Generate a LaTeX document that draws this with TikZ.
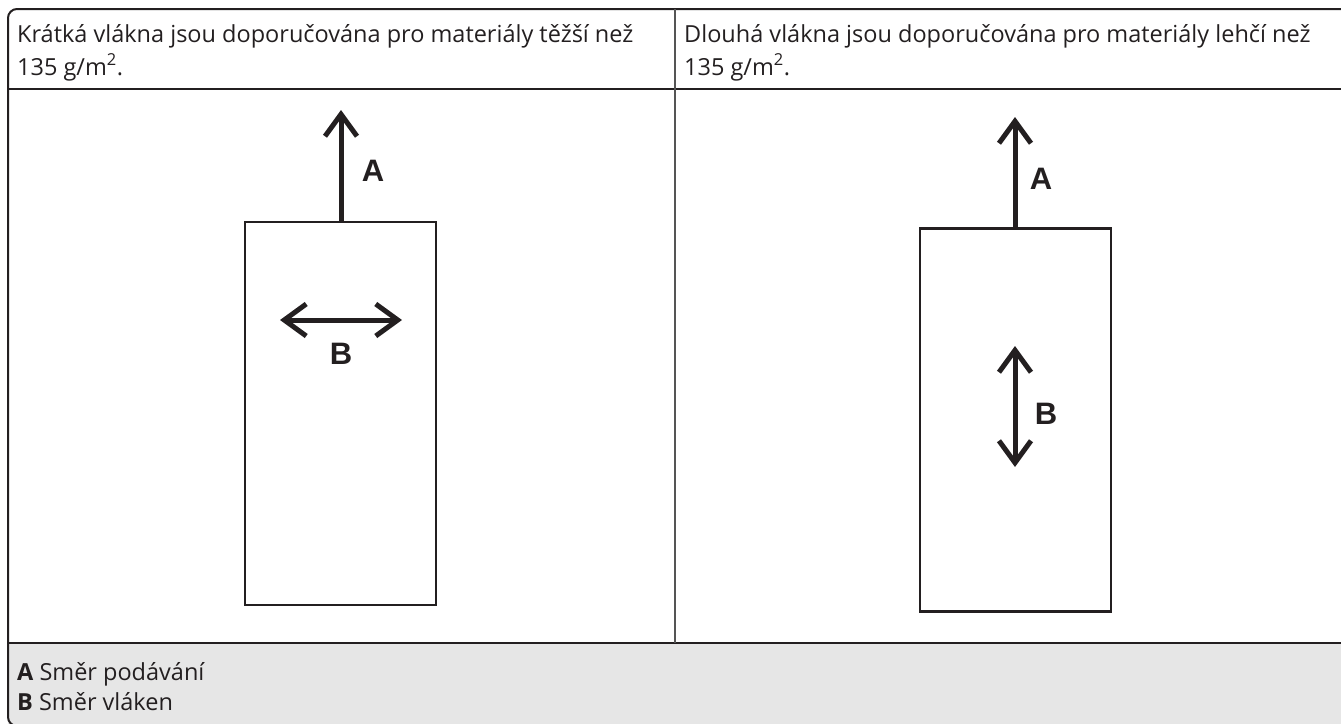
\documentclass[tikz,border=0pt]{standalone}
\usepackage{fontspec}
\setmainfont{Open Sans}
\newfontfamily\lblfont{Liberation Sans}
\usetikzlibrary{arrows.meta}
\definecolor{ink}{HTML}{231F20}
\definecolor{legendgray}{HTML}{E6E6E6}
\definecolor{divgray}{HTML}{555555}
\tikzset{
  tbl/.style={draw=ink, line width=2pt},
  paper/.style={draw=ink, line width=2.5pt, minimum width=191pt, minimum height=383pt, inner sep=0pt, outer sep=0pt},
  dirarrow/.style={draw=ink, line width=5pt, -{Straight Barb[length=22pt,width=32pt,line width=5pt]}},
  dirboth/.style={draw=ink, line width=5pt, {Straight Barb[length=22pt,width=32pt,line width=5pt]}-{Straight Barb[length=22pt,width=32pt,line width=5pt]}},
  lbl/.style={font=\lblfont\fontsize{31}{31}\selectfont\bfseries, text=ink, inner sep=0pt},
  hdr/.style={font=\fontsize{23.5}{34}\selectfont, text=ink, anchor=base west, inner sep=0pt},
}
\begin{document}
\begin{tikzpicture}[x=1pt,y=-1pt]
\useasboundingbox (0,0) rectangle (1341,723);
\clip (0,0) rectangle (1341,723);
% legend background
\fill[legendgray] (8,643) rectangle (1360,730);
% table lines
\draw[tbl, rounded corners=9pt] (1380,9) -- (8,9) -- (8,726) -- (1380,726);
\draw[tbl] (8,89) -- (1360,89);
\draw[tbl] (8,643) -- (1360,643);
\draw[draw=divgray, line width=2.5pt] (675,9) -- (675,643);
% header texts
\node[hdr] (h1a) at (17,42) {Krátká vlákna jsou doporučována pro materiály těžší než};
\node[hdr] (h1b) at (17,75) {135 g/m\textsuperscript{2}.};
\node[hdr] (h2a) at (684,42) {Dlouhá vlákna jsou doporučována pro materiály lehčí než};
\node[hdr] (h2b) at (684,75) {135 g/m\textsuperscript{2}.};
% left paper
\node[paper] (p1) at (340.5,413.5) {};
\coordinate (a1end) at (341,110);
\draw[dirarrow] (p1.north -| a1end) -- (a1end);
\node[lbl] (la1) at (373,171) {A};
\coordinate (b1l) at (280,320);
\coordinate (b1r) at (402,320);
\draw[dirboth] (b1l) -- (b1r);
\node[lbl] (lb1) at (341,354) {B};
% right paper
\node[paper] (p2) at (1015.5,420) {};
\coordinate (a2end) at (1015,117);
\draw[dirarrow] (p2.north -| a2end) -- (a2end);
\node[lbl] (la2) at (1041,179) {A};
\coordinate (b2t) at (1015,346);
\coordinate (b2b) at (1015,467);
\draw[dirboth] (b2t) -- (b2b);
\node[lbl] (lb2) at (1046,414) {B};
% legend
\node[hdr] (lega) at (17,680) {\textbf{A} Směr podávání};
\node[hdr] (legb) at (17,710) {\textbf{B} Směr vláken};
\end{tikzpicture}
\end{document}
